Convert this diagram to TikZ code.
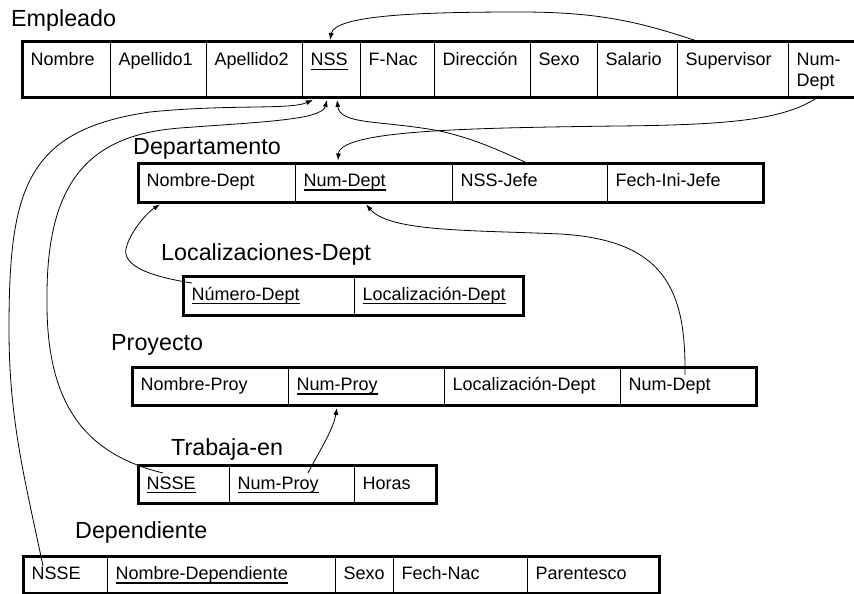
\documentclass[tikz,border=0pt]{standalone}
\usepackage{fontspec}
\setmainfont{Liberation Sans}
\usetikzlibrary{arrows.meta}
\newcommand\ulx[1]{\setbox0=\hbox{#1}\rlap{\rule[-4pt]{\wd0}{1.3pt}}\box0}
\newcommand\mkcell[7]{%
  \node[cellbox, minimum width=#3, minimum height=#5] (#1) at (#2,#4) {};
  \node[ctext] (#1-t) at ([shift={(8.5,#6)}]#1.north west) {#7};}
\tikzset{
  cellbox/.style={draw, line width=0.9pt, inner sep=0pt, anchor=north west},
  ctext/.style={anchor=base west, inner sep=0pt, font=\fontsize{18}{21}\selectfont},
  ttl/.style={anchor=base west, inner sep=0pt, font=\fontsize{23.3}{27}\selectfont},
  frame/.style={line width=3pt},
  conn/.style={line width=0.8pt, -{Latex[length=7pt,width=5pt]}}
}
\begin{document}
\begin{tikzpicture}[x=1pt,y=-1pt]
\useasboundingbox (0,0) rectangle (854,594);
% titles
\node[ttl] (tEmp) at (11,27) {Empleado};
\node[ttl] (tDep) at (133,154) {Departamento};
\node[ttl] (tLoc) at (161,260) {Localizaciones-Dept};
\node[ttl] (tPro) at (111,350) {Proyecto};
\node[ttl] (tTra) at (171,455) {Trabaja-en};
\node[ttl] (tDpd) at (75,538) {Dependiente};
% Empleado
\mkcell{e1}{22}{88}{42}{55}{24}{Nombre}
\mkcell{e2}{110}{96}{42}{55}{24}{Apellido1}
\mkcell{e3}{206}{96}{42}{55}{24}{Apellido2}
\mkcell{e4}{302}{58}{42}{55}{24}{\ulx{NSS}}
\mkcell{e5}{360}{74}{42}{55}{24}{F-Nac}
\mkcell{e6}{434}{96}{42}{55}{24}{Dirección}
\mkcell{e7}{530}{67}{42}{55}{24}{Sexo}
\mkcell{e8}{597}{80}{42}{55}{24}{Salario}
\mkcell{e9}{677}{111}{42}{55}{24}{Supervisor}
\mkcell{e10}{788}{67}{42}{55}{24}{\begin{tabular}[t]{@{}l@{}}Num-\\Dept\end{tabular}}
\draw[frame] (e1.north west) rectangle (e10.south east);
% Departamento
\mkcell{d1}{138}{157}{163}{39}{23.5}{Nombre-Dept}
\mkcell{d2}{295}{157}{163}{39}{23.5}{\ulx{Num-Dept}}
\mkcell{d3}{452}{155}{163}{39}{23.5}{NSS-Jefe}
\mkcell{d4}{607}{156}{163}{39}{23.5}{Fech-Ini-Jefe}
\draw[frame] (d1.north west) rectangle (d4.south east);
% Localizaciones-Dept
\mkcell{l1}{183}{171}{276}{39}{24}{\ulx{Número-Dept}}
\mkcell{l2}{354}{169}{276}{39}{24}{\ulx{Localización-Dept}}
\draw[frame] (l1.north west) rectangle (l2.south east);
% Proyecto
\mkcell{p1}{132}{156}{367}{38}{23.5}{Nombre-Proy}
\mkcell{p2}{288}{156}{367}{38}{23.5}{\ulx{Num-Proy}}
\mkcell{p3}{444}{176}{367}{38}{23.5}{Localización-Dept}
\mkcell{p4}{620}{136}{367}{38}{23.5}{Num-Dept}
\draw[frame] (p1.north west) rectangle (p4.south east);
% Trabaja-en
\mkcell{t1}{138}{91}{465}{38}{24}{\ulx{NSSE}}
\mkcell{t2}{229}{125}{465}{38}{24}{\ulx{Num-Proy}}
\mkcell{t3}{354}{82}{465}{38}{24}{Horas}
\draw[frame] (t1.north west) rectangle (t3.south east);
% Dependiente
\mkcell{q1}{23}{84}{556}{37}{23.5}{NSSE}
\mkcell{q2}{107}{228}{556}{37}{23.5}{\ulx{Nombre-Dependiente}}
\mkcell{q3}{335}{58}{556}{37}{23.5}{Sexo}
\mkcell{q4}{393}{134}{556}{37}{23.5}{Fech-Nac}
\mkcell{q5}{527}{132}{556}{37}{23.5}{Parentesco}
\draw[frame] (q1.north west) rectangle (q5.south east);
% connectors
\draw[conn] ([xshift=23pt]e9.north west) .. controls (640,22) and (600,12) .. (520,12)
  .. controls (420,12) and (335,15) .. ([xshift=28pt,yshift=2pt]e4.north west);
\draw[conn] ([xshift=29pt]e10.south west) .. controls (785,118) and (740,125) .. (617,126)
  .. controls (470,128) and (340,130) .. ([xshift=43pt,yshift=2.5pt]d2.north west);
\draw[conn] ([xshift=75pt]d3.north west) .. controls (490,146) and (470,138) .. (440,131)
  .. controls (380,120) and (340,125) .. ([xshift=35pt,yshift=-2pt]e4.south west);
\draw[conn] ([xshift=20pt,yshift=-10pt]q1.north west) .. controls (25,480) and (9,420) .. (9,330)
  .. controls (9,190) and (25,130) .. (150,112)
  .. controls (230,104) and (290,110) .. ([xshift=11pt,yshift=-2pt]e4.south west);
\draw[conn] ([xshift=25pt,yshift=-8pt]t1.north west) .. controls (90,455) and (46,410) .. (47,300)
  .. controls (46,180) and (90,135) .. (180,128)
  .. controls (260,122) and (322,120) .. ([xshift=25pt,yshift=-2pt]e4.south west);
\draw[conn] ([xshift=9pt,yshift=-7pt]l1.north west) .. controls (140,275) and (120,262) .. (127,245)
  .. controls (133,228) and (148,212) .. ([xshift=22pt,yshift=-1.5pt]d1.south west);
\draw[conn] ([xshift=65pt,yshift=-8pt]p4.north west) .. controls (686,290) and (665,240) .. (560,234)
  .. controls (470,230) and (390,232) .. ([xshift=71pt,yshift=-1.5pt]d2.south west);
\draw[conn] ([xshift=79pt,yshift=-8pt]t2.north west) .. controls (320,450) and (333,430) .. ([xshift=49pt,yshift=-2pt]p2.south west);
\end{tikzpicture}
\end{document}
